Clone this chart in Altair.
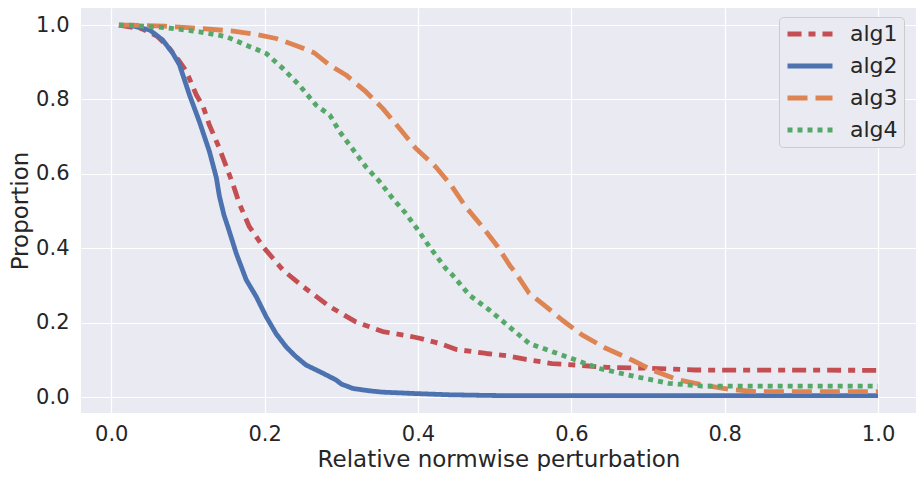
import altair as alt
import pandas as pd

series_names = ["alg1", "alg2", "alg3", "alg4"]
colors = ["#C44E52", "#4C72B0", "#DD8452", "#55A868"]
dashes = [[14, 7, 7, 7], [1, 0], [20, 8], [5, 5]]

alg1_x = [0.01, 0.04, 0.06, 0.076, 0.088, 0.098, 0.111, 0.12, 0.128, 0.141, 0.159, 0.167, 0.18, 0.198,
          0.224, 0.25, 0.285, 0.319, 0.354, 0.393, 0.402, 0.428, 0.45, 0.489, 0.515, 0.541, 0.575,
          0.606, 0.645, 0.705, 0.762, 1.0]
alg1_y = [1.0, 0.99, 0.97, 0.937, 0.905, 0.875, 0.812, 0.78, 0.731, 0.669, 0.57, 0.52, 0.458, 0.404,
          0.341, 0.297, 0.243, 0.202, 0.176, 0.162, 0.158, 0.144, 0.128, 0.117, 0.111, 0.101, 0.09,
          0.086, 0.08, 0.077, 0.0726, 0.0718]

alg2_x = [0.01, 0.03, 0.05, 0.067, 0.08, 0.089, 0.102, 0.115, 0.128, 0.137, 0.141, 0.147, 0.152, 0.163,
          0.176, 0.189, 0.202, 0.215, 0.228, 0.24, 0.254, 0.275, 0.293, 0.3, 0.315, 0.335, 0.354, 0.4,
          0.441, 0.5, 0.6, 1.0]
alg2_y = [1.0, 0.997, 0.987, 0.96, 0.925, 0.893, 0.812, 0.74, 0.66, 0.59, 0.54, 0.489, 0.458, 0.386,
          0.315, 0.27, 0.216, 0.17, 0.135, 0.11, 0.086, 0.065, 0.046, 0.035, 0.023, 0.017, 0.013, 0.009,
          0.006, 0.004, 0.0035, 0.0035]

alg3_x = [0.01, 0.028, 0.07, 0.115, 0.159, 0.189, 0.215, 0.245, 0.265, 0.285, 0.306, 0.332, 0.354, 0.376,
          0.397, 0.423, 0.443, 0.462, 0.484, 0.504, 0.521, 0.528, 0.545, 0.567, 0.588, 0.614, 0.645,
          0.679, 0.705, 0.74, 0.773, 0.805, 0.84, 1.0]
alg3_y = [1.0, 1.0, 0.997, 0.991, 0.984, 0.975, 0.964, 0.942, 0.925, 0.892, 0.866, 0.821, 0.776, 0.722,
          0.669, 0.619, 0.57, 0.512, 0.458, 0.404, 0.35, 0.332, 0.279, 0.243, 0.207, 0.167, 0.131,
          0.0995, 0.0726, 0.0457, 0.032, 0.0207, 0.0145, 0.0145]

alg4_x = [0.01, 0.02, 0.072, 0.115, 0.15, 0.176, 0.202, 0.224, 0.245, 0.267, 0.285, 0.298, 0.311, 0.332,
          0.35, 0.367, 0.384, 0.4, 0.415, 0.436, 0.445, 0.467, 0.493, 0.519, 0.545, 0.575, 0.606, 0.636,
          0.684, 0.727, 0.771, 1.0]
alg4_y = [1.0, 1.0, 0.993, 0.982, 0.969, 0.946, 0.924, 0.883, 0.839, 0.785, 0.758, 0.713, 0.677, 0.619,
          0.579, 0.534, 0.494, 0.449, 0.404, 0.346, 0.328, 0.274, 0.234, 0.189, 0.144, 0.122, 0.0995, 0.077,
          0.0546, 0.0368, 0.0293, 0.029]

rows = []
for name, xs, ys in zip(series_names, [alg1_x, alg2_x, alg3_x, alg4_x], [alg1_y, alg2_y, alg3_y, alg4_y]):
    for i, (x, y) in enumerate(zip(xs, ys)):
        rows.append({"series": name, "x": x, "y": y, "order": i})
df = pd.DataFrame(rows)

FONT = "DejaVu Sans"
TXT = "#262626"

legend = alt.Legend(
    title=None, orient="none", legendX=698, legendY=9,
    symbolType="stroke", symbolSize=2025, symbolStrokeWidth=5, clipHeight=22,
    labelFontSize=22, labelFont=FONT, labelColor=TXT, labelOffset=15,
    padding=6, rowPadding=10, fillColor="#EAEAF2", strokeColor="#cccccc", cornerRadius=4,
)

chart = alt.Chart(df).mark_line(strokeWidth=4.8, strokeCap="butt", strokeJoin="round").encode(
    x=alt.X("x:Q", scale=alt.Scale(domain=[-0.0395, 1.0495], nice=False, zero=False),
            axis=alt.Axis(title="Relative normwise perturbation", values=[0, 0.2, 0.4, 0.6, 0.8, 1.0],
                          format=".1f", labelPadding=10, titlePadding=4)),
    y=alt.Y("y:Q", scale=alt.Scale(domain=[-0.043, 1.046], nice=False, zero=False),
            axis=alt.Axis(title="Proportion", values=[0, 0.2, 0.4, 0.6, 0.8, 1.0],
                          format=".1f", labelPadding=12, titlePadding=3)),
    color=alt.Color("series:N", scale=alt.Scale(domain=series_names, range=colors), legend=legend),
    strokeDash=alt.StrokeDash("series:N", scale=alt.Scale(domain=series_names, range=dashes), legend=legend),
    order="order:Q",
).properties(
    width=835, height=405,
    autosize=alt.AutoSizeParams(type="none"),
    padding={"left": 73, "top": 0, "right": 0, "bottom": 58},
).configure(
    background="white",
).configure_view(
    fill="#EAEAF2", stroke=None,
).configure_axis(
    grid=True, gridColor="white", gridWidth=1.2, domain=False, tickSize=0,
    labelFont=FONT, labelFontSize=21, labelColor=TXT,
    titleFont=FONT, titleFontSize=23, titleFontWeight="normal", titleColor=TXT,
)

chart.save("out.html", embed_options={"renderer": "svg", "actions": False})
